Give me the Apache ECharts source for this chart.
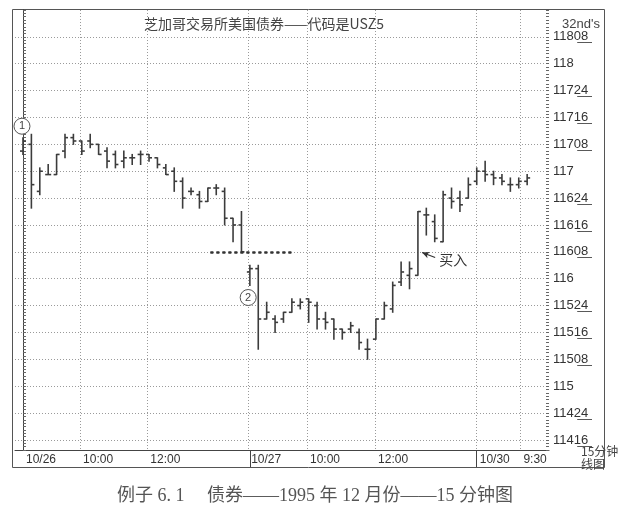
<!DOCTYPE html>
<html><head><meta charset="utf-8">
<script src="https://cdn.jsdelivr.net/npm/echarts@6/dist/echarts.min.js"></script>
<style>html,body{margin:0;padding:0;background:#fff;}#c{width:630px;height:511px;}</style>
</head><body><div id="c"></div>
<script>
// Prices in 32nds of a point (e.g. 3744 = 117, 3720 = 116-08)
const opens  = [3750,3752,3738,3743,3743,3750,3754,3753,3753,3752,3750,3749,3747,3748,3749,3749,3748,3745,3744,3741,3738,3737,3735,3739,3738,3730,3728,
                3714,3715,3700,3700,3700,3702,3704,3706,3704,3700,3700,3697,3697,3696,3691,3694,3700,3703,3711,3713,3713,3731,3729,3723,3736,3736,3736,
                3741,3744,3743,3742,3740,3740,3741];
const highs  = [3754,3755,3745,3746,3749,3755,3755,3753,3755,3752,3751,3750,3750,3749,3750,3749,3748,3746,3745,3742,3739,3738,3739,3740,3739,3730,3732,
                3716,3716,3705,3701,3702,3706,3706,3706,3705,3702,3700,3697,3699,3697,3694,3700,3705,3711,3717,3717,3732,3733,3731,3738,3739,3738,3742,
                3745,3747,3744,3743,3742,3742,3743];
const lows   = [3749,3733,3737,3743,3743,3748,3752,3749,3751,3749,3745,3745,3745,3746,3746,3747,3745,3743,3738,3733,3737,3733,3735,3737,3728,3723,3720,
                3710,3691,3700,3696,3699,3702,3703,3699,3697,3697,3694,3694,3696,3691,3688,3694,3700,3702,3710,3709,3713,3725,3723,3723,3733,3732,3736,
                3740,3741,3740,3740,3738,3739,3740];
const closes = [3753,3740,3744,3743,3749,3754,3753,3750,3752,3749,3747,3746,3748,3748,3749,3748,3746,3743,3741,3736,3738,3735,3739,3739,3730,3728,3720,
                3715,3700,3702,3699,3702,3705,3705,3705,3700,3699,3697,3696,3698,3693,3691,3700,3704,3710,3714,3715,3732,3731,3724,3737,3735,3734,3740,
                3744,3743,3742,3741,3740,3741,3742];
// x ticks in bar-index units
const xTickPos = [0, 6.8, 14.8, 26.8, 33.8, 41.9, 54, 59.2];
const xTickLabels = ['10/26','10:00','12:00','10/27','10:00','12:00','10/30','9:30'];
const sessionBreaks = [27, 54];
const yLabelValues = [3664,3672,3680,3688,3696,3704,3712,3720,3728,3736,3744,3752,3760,3768,3776,3784];
const titleText = '芝加哥交易所美国债券——代码是USZ5';
const captionText = '例子 6. 1　 债券——1995 年 12 月份——15 分钟图';

function fmt32(v){
  const w = Math.floor(v/32), f = Math.round(v - w*32);
  if (!f) return String(w);
  const s = (f<10?'0':'') + f;
  return w + s.split('').map(c => c + '\u0332').join('');
}
const data = opens.map((o,i) => [i, o, highs[i], lows[i], closes[i]]);
const ink = '#444';
const gridDot = {type:[1,2], color:'#9a9a9a', width:1};
const chart = echarts.init(document.getElementById('c'), null, {renderer:'canvas'});
chart.setOption({
  animation:false,
  backgroundColor:'#fff',
  title:[
    {text:titleText, left:139, top:12, textStyle:{fontSize:14, fontWeight:'normal', color:'#444', fontFamily:'"Noto Sans CJK SC", "Liberation Sans"'}},
    {text:"32nd's", left:557, top:13, textStyle:{fontSize:13, fontWeight:'normal', color:'#444', fontFamily:'"Liberation Sans"'}},
    {text:'15分钟\n线图', left:576, top:440, textStyle:{fontSize:12, lineHeight:13, fontWeight:'normal', color:'#444', fontFamily:'"Noto Sans CJK SC"'}, textAlign:'left'},
    {text:captionText, left:'center', top:482, textStyle:{fontSize:18, fontWeight:'normal', color:'#555', fontFamily:'"Liberation Serif", "Noto Sans CJK SC"'}}
  ],
  graphic:[{type:'rect', shape:{x:12.5, y:9.5, width:592, height:458}, style:{fill:'none', stroke:'#555', lineWidth:1}, silent:true}],
  grid:{left:15, right:81, top:10, bottom:61},
  xAxis:[
    {type:'value', min:-0.95, max:62.6, position:'bottom',
     axisLine:{show:true, lineStyle:{color:ink}},
     axisTick:{show:false, customValues:xTickPos},
     axisLabel:{customValues:xTickPos, align:'left', padding:[0,0,0,3], margin:4, fontSize:12, color:'#333', fontFamily:'"Liberation Sans"',
       formatter:v => { const k = xTickPos.findIndex(p => Math.abs(p-v)<1e-6); return k<0 ? '' : xTickLabels[k]; }},
     splitLine:{show:true, lineStyle:gridDot}},
    {type:'value', min:-0.95, max:62.6, position:'bottom',
     axisLine:{show:false}, axisLabel:{show:false}, splitLine:{show:false},
     axisTick:{show:true, customValues:sessionBreaks, length:17, lineStyle:{color:ink, width:1}}}
  ],
  yAxis:[
    {type:'value', min:3661, max:3792, position:'right',
     axisLine:{show:true, lineStyle:{color:ink}},
     axisTick:{show:false, customValues:yLabelValues},
     axisLabel:{customValues:yLabelValues, formatter:fmt32, margin:4, fontSize:13, color:'#333', fontFamily:'"Liberation Sans"'},
     splitLine:{show:true, lineStyle:gridDot}},
    {type:'value', min:3661, max:3792, interval:1, position:'left',
     axisLine:{show:true, lineStyle:{color:ink}}, axisLabel:{show:false}, splitLine:{show:false},
     axisTick:{show:true, inside:true, length:3, lineStyle:{color:'#666'}}},
    {type:'value', min:3661, max:3792, interval:1, position:'right',
     axisLine:{show:false}, axisLabel:{show:false}, splitLine:{show:false},
     axisTick:{show:true, inside:true, length:3, lineStyle:{color:'#666'}}}
  ],
  series:[{
    type:'custom', xAxisIndex:0, yAxisIndex:0, data:data,
    encode:{x:0, y:[1,2,3,4]},
    renderItem:(params, api) => {
      const i = api.value(0);
      const pH = api.coord([i, api.value(2)]);
      const pL = api.coord([i, api.value(3)]);
      const pO = api.coord([i, api.value(1)]);
      const pC = api.coord([i, api.value(4)]);
      const st = {stroke:'#3c3c3c', lineWidth:1.6};
      const t = 3;
      return {type:'group', children:[
        {type:'line', shape:{x1:pH[0], y1:pH[1]-0.5, x2:pL[0], y2:pL[1]+0.5}, style:st},
        {type:'line', shape:{x1:pO[0]-t, y1:pO[1], x2:pO[0], y2:pO[1]}, style:st},
        {type:'line', shape:{x1:pC[0], y1:pC[1], x2:pC[0]+t, y2:pC[1]}, style:st}
      ]};
    },
    markLine:{silent:true, symbol:['none','none'], label:{show:false}, animation:false,
      data:[
        [{coord:[22.3,3720], lineStyle:{type:[3,3], width:2.5, color:'#333'}}, {coord:[32,3720]}],
        [{coord:[49.05,3718.3], lineStyle:{type:'solid', width:1.2, color:'#333'}}, {coord:[47.5,3719.8], symbol:'arrow', symbolSize:[5,7]}]
      ]},
    markPoint:{silent:true, animation:false,
      data:[
        {coord:[-0.12,3757.4], symbol:'circle', symbolSize:16, itemStyle:{color:'#fff', borderColor:'#555', borderWidth:1},
         label:{show:true, position:'inside', formatter:'1', color:'#444', fontSize:11, fontFamily:'"Liberation Sans"'}},
        {coord:[26.8,3706.4], symbol:'circle', symbolSize:16, itemStyle:{color:'#fff', borderColor:'#555', borderWidth:1},
         label:{show:true, position:'inside', formatter:'2', color:'#444', fontSize:11, fontFamily:'"Liberation Sans"'}},
        {coord:[51.2,3717.7], symbol:'circle', symbolSize:0,
         label:{show:true, position:'inside', formatter:'买入', color:'#333', fontSize:14, fontFamily:'"Noto Sans CJK SC"'}}
      ]}
  }]
});
</script></body></html>
